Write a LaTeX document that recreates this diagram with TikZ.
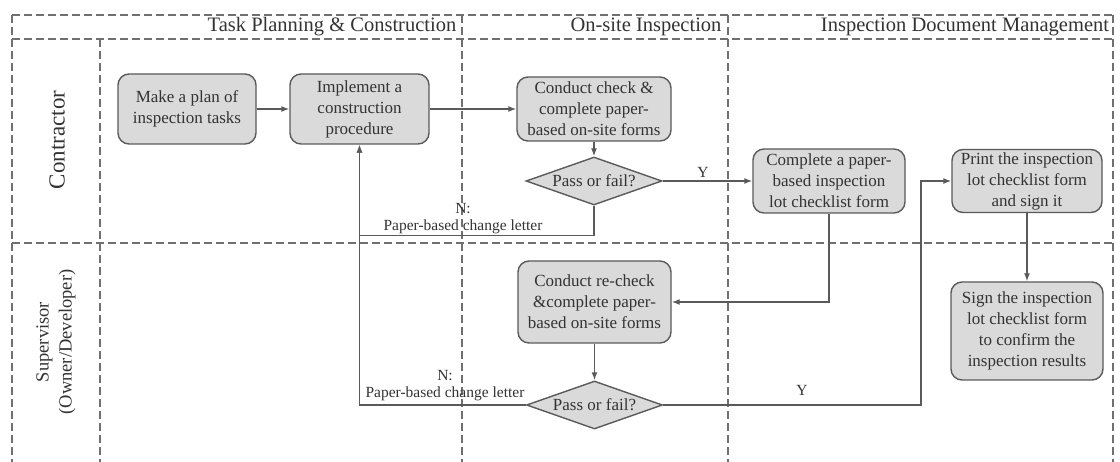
\documentclass[tikz,border=0pt]{standalone}
\usepackage{fontspec}
\setmainfont{Liberation Serif}
\usetikzlibrary{shapes.geometric,arrows.meta}

\definecolor{boxfill}{HTML}{DADADA}
\definecolor{boxline}{HTML}{5A5A5A}
\definecolor{txtgray}{HTML}{333333}
\definecolor{lanegray}{HTML}{707070}

\newcommand{\boxfont}{\fontsize{17}{21}\selectfont}
\newcommand{\labfont}{\fontsize{15.5}{17}\selectfont}

\tikzset{
  taskbox/.style={draw=boxline, fill=boxfill, line width=1.4pt, rounded corners=11pt,
    align=center, font=\boxfont, text=txtgray, inner sep=0pt},
  decision/.style={diamond, draw=boxline, fill=boxfill, line width=1.4pt, aspect=2.8,
    minimum width=136pt, minimum height=48pt, inner sep=0pt, font=\boxfont, text=txtgray},
  lane/.style={draw=lanegray, line width=1.3pt, dash pattern=on 8pt off 4pt},
  flow/.style={draw=boxline, line width=1.4pt, -{Latex[length=8pt,width=6pt]}},
  flowlab/.style={font=\labfont, text=txtgray, align=center}
}

\begin{document}
\begin{tikzpicture}[x=1pt,y=-1pt]
					\useasboundingbox (0,0) rectangle (1120,462);
					% lanes
					\draw [lane] (12,15) -- (1113,15);
					\draw [lane] (12,39) -- (1113,39);
					\draw [lane] (12,243) -- (1113,243);
					\draw [lane] (12,15) -- (12,462);
					\draw [lane] (100,39) -- (100,462);
					\draw [lane] (462,15) -- (462,462);
					\draw [lane] (728,15) -- (728,462);
					\draw [lane] (1113,15) -- (1113,462);
					% lane titles
					\node [font=\fontsize{20.5}{24}\selectfont, text=txtgray] (phaseA) at (332,27) {Task Planning \& Construction};
					\node [font=\fontsize{20.5}{24}\selectfont, text=txtgray] (phaseB) at (646,27) {On-site Inspection};
					\node [font=\fontsize{20.5}{24}\selectfont, text=txtgray] (phaseC) at (965,27) {Inspection Document Management};
					\node [rotate=90, font=\fontsize{23}{26}\selectfont, text=txtgray] (roleA) at (57,140) {Contractor};
					\node [rotate=90, align=center, font=\fontsize{18.5}{23}\selectfont, text=txtgray] (roleB) at (56,342) {Supervisor\\(Owner/Developer)};
					% boxes
					\node [taskbox, minimum width=138pt, minimum height=70pt] (plan) at (187,109) {Make a plan of\\inspection tasks};
					\node [taskbox, minimum width=139pt, minimum height=70pt] (impl) at (359.5,109) {Implement a\\construction\\procedure};
					\node [taskbox, minimum width=154pt, minimum height=64pt] (check) at (594,109) {Conduct check \&\\complete paper-\\based on-site forms};
					\node [decision] (pass1) at (594,181) {Pass or fail?};
					\node [taskbox, minimum width=152pt, minimum height=64pt] (lotform) at (829,181) {Complete a paper-\\based inspection\\lot checklist form};
					\node [taskbox, minimum width=150pt, minimum height=63pt] (print) at (1027,181) {Print the inspection\\lot checklist form\\and sign it};
					\node [taskbox, minimum width=153pt, minimum height=82pt] (recheck) at (594.5,302) {Conduct re-check\\\&complete paper-\\based on-site forms};
					\node [decision] (pass2) at (594.5,405) {Pass or fail?};
					\node [taskbox, minimum width=152pt, minimum height=98pt] (sign) at (1027,331) {Sign the inspection\\lot checklist form\\to confirm the\\inspection results};
					% arrows
					\draw [flow] (plan) -- (impl);
					\draw [flow] (impl) -- (check);
					\draw [flow] (check) -- (pass1);
					\draw [flow] (pass1) -- (lotform);
					\draw [flow] (pass1.south) -- ++(0,30) -| (impl.south);
					\draw [flow] (lotform.south) |- (recheck.east);
					\draw [flow] (recheck) -- (pass2);
					\draw [flow] (pass2.west) -| (impl.south);
					\coordinate (ybend) at (921,405);
					\draw [flow] (pass2.east) -- (ybend) |- (print.west);
					\draw [flow] (print) -- (sign);
					% labels
					\node [flowlab] (yes1) at (703,172) {Y};
					\node [flowlab] (yes2) at (802,390) {Y};
					\node [flowlab] (no1) at (463,219) {N:\\Paper-based change letter};
					\node [flowlab] (no2) at (445,386) {N:\\Paper-based change letter};

				\end{tikzpicture}
\end{document}
